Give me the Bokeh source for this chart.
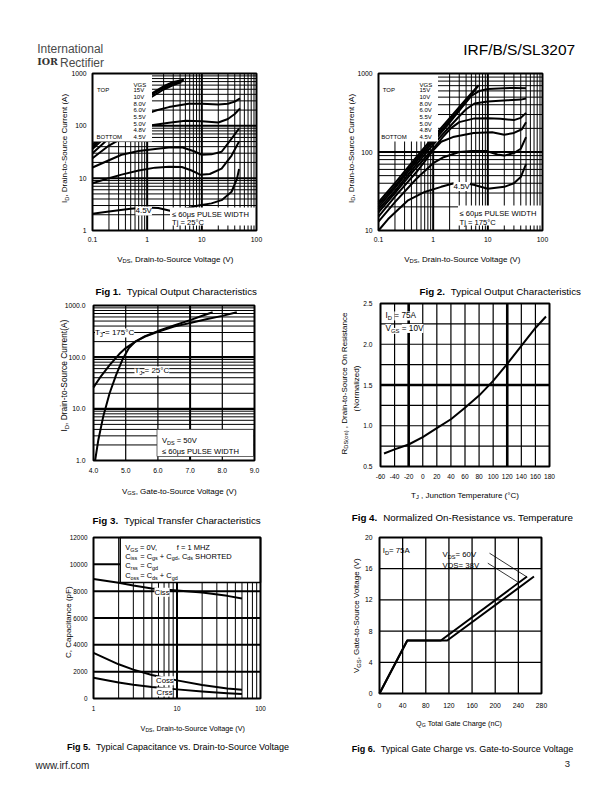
import math
from bokeh.plotting import figure
from bokeh.models import (Range1d, FixedTicker, Label, BoxAnnotation, LinearAxis, LogAxis,
                          LinearScale, LogScale)
from bokeh.embed import file_html
from bokeh.resources import INLINE

FONT = "Liberation Sans"

# ======================= DATA =======================
# Fig 1 - Typical output characteristics, Tj = 25 C  (VDS [V] -> ID [A])
f1_legend = ["15V", "10V", "8.0V", "6.0V", "5.5V", "5.0V", "4.8V", "4.5V"]
f1_vds_15v = [0.1, 0.2, 0.5, 1.0, 2.0, 3.0, 4.7]
f1_id_15v = [44, 86, 200, 370, 570, 690, 760]
f1_vds_10v = [0.1, 0.2, 0.5, 1.0, 2.0, 3.0, 4.5]
f1_id_10v = [40, 79, 185, 345, 535, 645, 720]
f1_vds_8v = [0.1, 0.2, 0.5, 1.0, 2.0, 3.0, 4.2]
f1_id_8v = [36, 71, 168, 315, 495, 600, 680]
f1_vds_6v = [0.1, 0.2, 0.5, 1.0, 1.5, 2.5, 5.7, 10, 20, 30, 40, 50]
f1_id_6v = [30, 58, 125, 172, 198, 228, 265, 264, 256, 265, 290, 335]
f1_vds_5v5 = [0.1, 0.2, 0.5, 1.2, 2.5, 5.0, 10, 20, 30, 40, 50]
f1_id_5v5 = [24, 42, 72, 103, 115, 125, 123, 116, 135, 168, 215]
f1_vds_5v0 = [0.1, 0.2, 0.34, 0.7, 1.4, 2.5, 4.3, 7.0, 10, 15, 23, 35, 48]
f1_id_5v0 = [16, 22, 28, 33, 36, 38.5, 39, 33, 28, 28.5, 32, 57, 89]
f1_vds_4v8 = [0.1, 0.2, 0.34, 0.7, 1.4, 2.5, 4.3, 6.5, 9.5, 14, 23, 35, 48]
f1_id_4v8 = [8, 10, 11.7, 14, 15.9, 16.5, 16.3, 14, 11.6, 12, 15.2, 27, 50]
f1_vds_4v5 = [0.1, 0.2, 0.5, 1.0, 1.6, 3.0, 5.0, 8.7, 15, 23, 35, 44, 48]
f1_id_4v5 = [2.1, 2.3, 2.6, 2.75, 2.7, 2.3, 2.6, 3.0, 3.3, 3.8, 5.5, 9.8, 15]

# Fig 2 - Typical output characteristics, Tj = 175 C
f2_legend = ["15V", "10V", "8.0V", "6.0V", "5.5V", "5.0V", "4.8V", "4.5V"]
f2_vds_15v = [0.1, 0.2, 0.5, 1, 2, 4, 6.8]
f2_id_15v = [23, 40, 87, 155, 270, 470, 710]
f2_vds_10v = [0.1, 0.2, 0.5, 1, 2, 4, 6.6]
f2_id_10v = [21.5, 37, 81, 144, 252, 440, 690]
f2_vds_8v = [0.1, 0.2, 0.5, 1, 2, 3.5, 5, 7, 10, 20, 30, 50]
f2_id_8v = [20, 35, 76, 135, 236, 385, 520, 600, 635, 650, 655, 650]
f2_vds_6v = [0.1, 0.2, 0.5, 1, 2, 3, 4, 5.7, 10, 23, 40, 50]
f2_id_6v = [18.5, 32, 70, 124, 210, 285, 350, 415, 440, 455, 465, 480]
f2_vds_5v5 = [0.1, 0.2, 0.5, 1, 1.5, 2.1, 3, 5.7, 10, 17, 30, 40, 50]
f2_id_5v5 = [17, 30, 64, 110, 155, 200, 240, 268, 270, 265, 255, 272, 315]
f2_vds_5v0 = [0.1, 0.2, 0.5, 1, 1.4, 2.3, 5.5, 12, 20, 30, 42, 50]
f2_id_5v0 = [15, 27, 56, 105, 135, 155, 175, 178, 166, 175, 195, 240]
f2_vds_4v8 = [0.1, 0.2, 0.5, 1, 1.5, 3, 5, 9.4, 15, 20, 30, 40, 50]
f2_id_4v8 = [13, 23, 46, 72, 85, 100, 103, 103, 93, 90, 97, 110, 155]
f2_vds_4v5 = [0.1, 0.15, 0.34, 0.7, 1.4, 2.4, 4, 5.7, 10, 20, 30, 40, 50]
f2_id_4v5 = [10, 14, 24, 31, 36, 40, 40, 38, 34, 36, 40, 48, 70]

# Fig 3 - Typical transfer characteristics (VGS [V] -> ID [A])
f3_vgs_175c = [4.0, 4.2, 4.5, 4.8, 5.0, 5.3, 5.6, 6.0, 6.5, 7.0, 7.5, 8.0, 8.45]
f3_id_175c = [26, 40, 70, 115, 150, 200, 250, 310, 390, 460, 540, 630, 740]
f3_vgs_25c = [4.05, 4.15, 4.3, 4.5, 4.7, 4.9, 5.1, 5.3, 5.6, 6.0, 6.5, 7.0, 7.4, 7.7]
f3_id_25c = [1, 2.5, 7, 20, 45, 90, 150, 200, 255, 320, 410, 520, 640, 740]

# Fig 4 - Normalized on-resistance vs junction temperature
f4_tj = [-55, -40, -20, 0, 20, 40, 60, 80, 100, 120, 140, 160, 175]
f4_rds = [0.66, 0.71, 0.77, 0.86, 0.97, 1.08, 1.22, 1.37, 1.55, 1.76, 1.98, 2.2, 2.34]

# Fig 5 - Capacitance vs VDS (pF)
f5_vds = [1, 2, 3, 5, 10, 20, 40, 60]
f5_ciss = [8900, 8620, 8420, 8200, 8050, 7900, 7650, 7450]
f5_coss = [3400, 2550, 2150, 1750, 1350, 1000, 750, 650]
f5_crss = [1550, 1200, 1020, 850, 680, 530, 400, 330]

# Fig 6 - Gate charge (QG [nC] -> VGS [V])
f6_qg_38v = [0, 48, 106, 255]
f6_vgs_38v = [0, 6.8, 6.8, 15.0]
f6_qg_60v = [0, 48, 117, 267]
f6_vgs_60v = [0, 6.8, 6.8, 15.0]

# tick values / labels
dec_01_100 = [0.1, 1, 10, 100]
dec_01_100_lab = ["0.1", "1", "10", "100"]
minor_01_100 = [0.2, 0.3, 0.4, 0.5, 0.6, 0.7, 0.8, 0.9, 2, 3, 4, 5, 6, 7, 8, 9,
                20, 30, 40, 50, 60, 70, 80, 90]
dec_1_1000 = [1, 10, 100, 1000]
minor_1_1000 = [2, 3, 4, 5, 6, 7, 8, 9, 20, 30, 40, 50, 60, 70, 80, 90,
                200, 300, 400, 500, 600, 700, 800, 900]
f2_yt = [10, 100, 1000]
f2_ymin = [20, 30, 40, 50, 60, 70, 80, 90, 200, 300, 400, 500, 600, 700, 800, 900]
f3_xt = [4, 5, 6, 7, 8, 9]
f3_xt_lab = ["4.0", "5.0", "6.0", "7.0", "8.0", "9.0"]
f3_yt_lab = ["1.0", "10.0", "100.0", "1000.0"]
f4_xt = list(range(-60, 181, 20))
f4_yt = [0.5, 1.0, 1.5, 2.0, 2.5]
f4_ymin = [0.75, 1.25, 1.75, 2.25]
f5_xt = [1, 10, 100]
f5_xmin = [2, 3, 4, 5, 6, 7, 8, 9, 20, 30, 40, 50, 60, 70, 80, 90]
f5_yt = list(range(0, 12001, 2000))
f6_xt = list(range(0, 281, 40))
f6_yt = list(range(0, 21, 4))

# ======================= PAGE CANVAS =======================
W, H = 610, 790
p = figure(width=W, height=H, x_range=Range1d(0, W), y_range=Range1d(H, 0),
           output_backend="svg", toolbar_location=None, title=None,
           x_axis_location=None, y_axis_location=None,
           min_border=0, min_border_left=0, min_border_right=0,
           min_border_top=0, min_border_bottom=0)
p.outline_line_color = None
p.background_fill_color = "white"
p.border_fill_color = "white"
p.xgrid.visible = False
p.ygrid.visible = False
EXR, EYR, EXS, EYS = {}, {}, {}, {}

# ======================= HELPERS =======================
CW = {' ': 278, '!': 278, '(': 333, ')': 333, ',': 278, '-': 333, '.': 278, '/': 278,
      ':': 278, '=': 584, '+': 584, '\u00b0': 400, '\u03bc': 576, '\u2264': 549}
for _c in "0123456789":
    CW[_c] = 556
CW.update(dict(A=667, B=667, C=722, D=722, E=667, F=611, G=778, H=722, I=278, J=500, K=667,
               L=556, M=833, N=722, O=778, P=667, Q=778, R=722, S=667, T=611, U=722, V=667,
               W=944, X=667, Y=667, Z=611))
CW.update(dict(a=556, b=556, c=500, d=556, e=556, f=278, g=556, h=556, i=222, j=222, k=500,
               l=222, m=833, n=556, o=556, p=556, q=556, r=333, s=500, t=278, u=556, v=500,
               w=722, x=500, y=500, z=500))


def tw(s, size, bold=False):
    w = sum(CW.get(c, 556) for c in s) * size / 1000.0
    return w * (1.06 if bold else 1.0)


def parse(s):
    parts, buf, i = [], "", 0
    while i < len(s):
        if s.startswith("_{", i):
            if buf:
                parts.append((buf, "n"))
                buf = ""
            j = s.index("}", i)
            parts.append((s[i + 2:j], "s"))
            i = j + 1
        else:
            buf += s[i]
            i += 1
    if buf:
        parts.append((buf, "n"))
    return parts


def rich(px, py, parts, size, align="left", angle=0.0, color="black", bg=None, font=FONT):
    """Text (with subscripts) placed in page coordinates: px = start, py = vertical centre."""
    if isinstance(parts, str):
        parts = parse(parts)
    sub = 0.72
    ws = [tw(t, size * sub if k == "s" else size, k == "b") for t, k in parts]
    total = sum(ws)
    adv = {"left": 0.0, "center": -total / 2, "right": -total}[align]
    for (t, k), w in zip(parts, ws):
        s = size * sub if k == "s" else size
        lead = len(t) - len(t.lstrip(" "))
        a = adv + tw(" " * lead, s)
        txt = t.strip(" ")
        drop = 0.3 * size if k == "s" else 0.0
        base = 0.36 * size + drop
        if angle:
            x, y = px + base, py - a
        else:
            x, y = px + a, py + base
        if txt:
            lab = Label(x=x, y=y, text=txt, text_font=font, text_font_size=f"{s:.2f}px",
                        text_font_style="bold" if k == "b" else "normal", text_color=color,
                        text_align="left", text_baseline="alphabetic", angle=angle)
            if bg:
                lab.background_fill_color = bg
            p.add_layout(lab)
        adv += w


def box(px0, py0, px1, py1, fill="white", line=None, lw=1.0):
    p.add_layout(BoxAnnotation(left=px0, right=px1, top=py0, bottom=py1,
                               fill_color=fill if fill else "white",
                               fill_alpha=1.0 if fill else 0.0,
                               line_color=line if line else "black",
                               line_alpha=1.0 if line else 0.0, line_width=lw))


class Chart:
    def __init__(self, name, frame, xr, yr, xlog, ylog):
        self.frame, self.xr, self.yr, self.xlog, self.ylog = frame, xr, yr, xlog, ylog
        self.xn, self.yn = name + "x", name + "y"
        L, R, T, B = frame

        def tr(v, lg):
            return math.log10(v) if lg else v

        def inv(v, lg):
            return 10 ** v if lg else v
        tx0, tx1 = tr(xr[0], xlog), tr(xr[1], xlog)
        ty0, ty1 = tr(yr[0], ylog), tr(yr[1], ylog)
        fx = lambda px: inv(tx0 + (px - L) / (R - L) * (tx1 - tx0), xlog)
        fy = lambda py: inv(ty0 + (B - py) / (B - T) * (ty1 - ty0), ylog)
        EXR[self.xn] = Range1d(fx(0), fx(W))
        EYR[self.yn] = Range1d(fy(H), fy(0))
        EXS[self.xn] = LogScale() if xlog else LinearScale()
        EYS[self.yn] = LogScale() if ylog else LinearScale()

    def kw(self):
        return dict(x_range_name=self.xn, y_range_name=self.yn)

    def curve(self, xs, ys, w=2.0):
        p.line(xs, ys, line_color="black", line_width=w, line_join="round", **self.kw())

    def vgrid(self, vals, w):
        vals = [v for v in vals if self.xr[0] < v < self.xr[1]]
        n = len(vals)
        p.segment(x0=vals, x1=vals, y0=[self.yr[0]] * n, y1=[self.yr[1]] * n,
                  line_color="black", line_width=w, **self.kw())

    def hgrid(self, vals, w):
        vals = [v for v in vals if self.yr[0] < v < self.yr[1]]
        n = len(vals)
        p.segment(x0=[self.xr[0]] * n, x1=[self.xr[1]] * n, y0=vals, y1=vals,
                  line_color="black", line_width=w, **self.kw())

    def axes(self, xt, xl, yt, yl, size, xstand, ystand):
        XA = LogAxis if self.xlog else LinearAxis
        YA = LogAxis if self.ylog else LinearAxis
        xa = XA(ticker=FixedTicker(ticks=xt), fixed_location=self.yr[0], bounds=self.xr,
                major_label_overrides={float(v): s for v, s in zip(xt, xl)}, **self.kw())
        ya = YA(ticker=FixedTicker(ticks=yt), fixed_location=self.xr[0], bounds=self.yr,
                major_label_overrides={float(v): s for v, s in zip(yt, yl)}, **self.kw())
        for ax, st in ((xa, xstand), (ya, ystand)):
            ax.axis_line_color = None
            ax.major_tick_line_color = None
            ax.minor_tick_line_color = None
            ax.major_tick_out = 0
            ax.major_tick_in = 0
            ax.minor_tick_out = 0
            ax.minor_tick_in = 0
            ax.major_label_text_font = FONT
            ax.major_label_text_font_size = f"{size}px"
            ax.major_label_text_color = "black"
            ax.major_label_standoff = int(round(st))
        p.add_layout(xa, "below")
        p.add_layout(ya, "left")

    def outline(self):
        L, R, T, B = self.frame
        box(L, T, R, B, fill=None, line="black", lw=2)


# ======================= FIG 1 =======================
c1 = Chart("f1", (92, 256, 73, 230), (0.1, 100), (1, 1000), True, True)
c1.vgrid(minor_01_100, 1)
c1.vgrid(dec_01_100, 2)
c1.hgrid(minor_1_1000, 1)
c1.hgrid(dec_1_1000, 2)
for xs, ys in [(f1_vds_15v, f1_id_15v), (f1_vds_10v, f1_id_10v), (f1_vds_8v, f1_id_8v),
               (f1_vds_6v, f1_id_6v), (f1_vds_5v5, f1_id_5v5), (f1_vds_5v0, f1_id_5v0),
               (f1_vds_4v8, f1_id_4v8), (f1_vds_4v5, f1_id_4v5)]:
    c1.curve(xs, ys)
c1.axes(dec_01_100, dec_01_100_lab, dec_1_1000, [str(v) for v in dec_1_1000], 6.8, 6, 6)
box(92, 73, 151.5, 141)
box(169.5, 207, 256, 225)
rich(133, 82, "VGS", 6)
rich(96.5, 87.5, "TOP", 6)
rich(96, 134.5, "BOTTOM", 6)
for k, lab in enumerate(f1_legend):
    rich(133, 87.5 + k * 6.72, lab, 6)
rich(135, 207.5, "4.5V", 8, bg="white")
rich(171.5, 211, "\u2264 60\u03bcs PULSE WIDTH", 7.6)
rich(171.5, 219, "Tj = 25\u00b0C", 7.6)
rich(61, 148, "I_{D}, Drain-to-Source Current (A)", 8, align="center", angle=math.pi / 2)
rich(175, 255.7, "V_{DS}, Drain-to-Source Voltage (V)", 8, align="center")
rich(176, 287, [("Fig 1.", "b"), ("  Typical Output Characteristics", "n")], 9.8, align="center")
c1.outline()

# ======================= FIG 2 =======================
c2 = Chart("f2", (378, 542, 73, 230), (0.1, 100), (10, 1000), True, True)
c2.vgrid(minor_01_100, 1)
c2.vgrid(dec_01_100, 2)
c2.hgrid(f2_ymin, 1)
c2.hgrid(f2_yt, 2.2)
for xs, ys in [(f2_vds_15v, f2_id_15v), (f2_vds_10v, f2_id_10v), (f2_vds_8v, f2_id_8v),
               (f2_vds_6v, f2_id_6v), (f2_vds_5v5, f2_id_5v5), (f2_vds_5v0, f2_id_5v0),
               (f2_vds_4v8, f2_id_4v8), (f2_vds_4v5, f2_id_4v5)]:
    c2.curve(xs, ys)
c2.axes(dec_01_100, dec_01_100_lab, f2_yt, [str(v) for v in f2_yt], 6.8, 6, 6)
box(378, 73, 437.5, 141)
box(457.5, 205, 542, 225)
rich(419, 82, "VGS", 6)
rich(382.3, 87.5, "TOP", 6)
rich(380.7, 134.5, "BOTTOM", 6)
for k, lab in enumerate(f2_legend):
    rich(419, 87.5 + k * 6.72, lab, 6)
rich(453, 183, "4.5V", 8, bg="white")
rich(459, 210.7, "\u2264 60\u03bcs PULSE WIDTH", 7.6)
rich(459, 219.5, "Tj = 175\u00b0C", 7.6)
rich(347.7, 148, "I_{D}, Drain-to-Source Current (A)", 8, align="center", angle=math.pi / 2)
rich(462, 255.7, "V_{DS}, Drain-to-Source Voltage (V)", 8, align="center")
rich(500, 287, [("Fig 2.", "b"), ("  Typical Output Characteristics", "n")], 9.8, align="center")
c2.outline()

# ======================= FIG 3 =======================
c3 = Chart("f3", (93, 254, 305, 460), (4, 9), (1, 1000), False, True)
c3.vgrid([5, 6, 8], 1.2)
c3.vgrid([7], 2)
c3.hgrid(minor_1_1000, 1)
c3.hgrid(dec_1_1000, 2.2)
c3.curve(f3_vgs_175c, f3_id_175c)
c3.curve(f3_vgs_25c, f3_id_25c)
c3.axes(f3_xt, f3_xt_lab, dec_1_1000, f3_yt_lab, 6.8, 7, 8)
rich(94.5, 329.5, "T_{J} = 175\u00b0C", 8, bg="white")
rich(134, 367.5, "T_{J} = 25\u00b0C", 8, bg="white")
box(156.5, 429, 253, 456, line="#444444", lw=0.8)
rich(161.5, 437.5, "V_{DS} = 50V", 7.6)
rich(161.5, 448, "\u2264 60\u03bcs PULSE WIDTH", 7.6)
rich(60.7, 375, "I_{D}, Drain-to-Source Current(A)", 8.4, align="center", angle=math.pi / 2)
rich(179, 487.7, "V_{GS}, Gate-to-Source Voltage (V)", 8, align="center")
rich(176.7, 516, [("Fig 3.", "b"), ("  Typical Transfer Characteristics", "n")], 9.8, align="center")
c3.outline()

# ======================= FIG 4 =======================
c4 = Chart("f4", (380, 549, 303, 466), (-60, 180), (0.5, 2.5), False, False)
c4.vgrid(f4_xt, 1.2)
c4.hgrid(f4_yt + f4_ymin, 1.2)
c4.vgrid([-20, 120], 2.6)
c4.hgrid([1.5], 2.6)
c4.curve(f4_tj, f4_rds)
c4.axes(f4_xt, [str(v) for v in f4_xt], f4_yt, ["%.1f" % v for v in f4_yt], 6.6, 7, 8)
rich(385, 312.5, "I_{D} = 75A", 8.2, bg="white")
rich(385, 325, "V_{GS} = 10V", 8.2, bg="white")
rich(340.7, 383, "R_{DS(on)} , Drain-to-Source On Resistance", 8, align="center", angle=math.pi / 2)
rich(353.3, 388, "(Normalized)", 8, align="center", angle=math.pi / 2)
rich(465, 491.7, "T_{J} , Junction Temperature (\u00b0C)", 8, align="center")
rich(462.5, 513, [("Fig 4.", "b"), ("  Normalized On-Resistance vs. Temperature", "n")], 9.8, align="center")
c4.outline()

# ======================= FIG 5 =======================
c5 = Chart("f5", (93, 260, 537, 698), (1, 100), (0, 12000), True, False)
c5.vgrid(f5_xmin, 1)
c5.vgrid(f5_xt, 2)
c5.hgrid(f5_yt, 2)
c5.curve(f5_vds, f5_ciss)
c5.curve(f5_vds, f5_coss)
c5.curve(f5_vds, f5_crss)
c5.axes(f5_xt, [str(v) for v in f5_xt], f5_yt, [str(v) for v in f5_yt], 6.4, 7, 6)
box(119.7, 537, 260, 582, line="black", lw=1.5)
rich(124.7, 544.5, "V_{GS} = 0V,", 7.5)
rich(176.3, 544.5, "f = 1 MHZ", 7.5)
rich(124.7, 553, "C_{iss}", 7.5)
rich(139.7, 553, "= C_{gs} + C_{gd}, C_{ds} SHORTED", 7.5)
rich(124.7, 562.7, "C_{rss}", 7.5)
rich(139.7, 562.7, "= C_{gd}", 7.5)
rich(124.7, 572.3, "C_{oss}", 7.5)
rich(139.7, 572.3, "= C_{ds} + C_{gd}", 7.5)
rich(154, 589, "Ciss", 7.8, bg="white")
rich(155.5, 677.5, "Coss", 7.8, bg="white")
rich(156, 688.8, "Crss", 7.8, bg="white")
rich(65, 621.7, "C, Capacitance (pF)", 8, align="center", angle=math.pi / 2)
rich(192.5, 725, "V_{DS}, Drain-to-Source Voltage (V)", 7.2, align="center")
rich(178, 743, [("Fig 5.", "b"), ("  Typical Capacitance vs. Drain-to-Source Voltage", "n")], 9, align="center")
c5.outline()

# ======================= FIG 6 =======================
c6 = Chart("f6", (379, 541, 537, 693), (0, 280), (0, 20), False, False)
c6.vgrid(f6_xt, 1.3)
c6.hgrid(f6_yt, 1.3)
c6.curve(f6_qg_38v, f6_vgs_38v)
c6.curve(f6_qg_60v, f6_vgs_60v)
c6.axes(f6_xt, [str(v) for v in f6_xt], f6_yt, [str(v) for v in f6_yt], 6.8, 9, 7)
p.segment(x0=[489, 487.3], y0=[552.7, 562.7], x1=[525.7, 518], y1=[576, 582],
          line_color="black", line_width=0.8)
rich(382.3, 547, "I_{D}= 75A", 7.8)
rich(442, 551.5, "V_{DS}= 60V", 7.8)
rich(442, 562, "VDS= 38V", 7.8)
rich(353.3, 615, "V_{GS}, Gate-to-Source Voltage (V)", 8, align="center", angle=math.pi / 2)
rich(459, 720, "Q_{G} Total Gate Charge (nC)", 7.2, align="center")
rich(462.5, 745, [("Fig 6.", "b"), ("  Typical Gate Charge vs. Gate-to-Source Voltage", "n")], 9, align="center")
c6.outline()

# ======================= PAGE TEXT =======================
rich(36.7, 43.8, "International", 12, color="#4a4a4a")
rich(36.7, 57.7, [("IOR", "b")], 9.5, font="DejaVu Serif", color="#333333")
rich(59.5, 57.7, "Rectifier", 12, color="#4a4a4a")
rich(574.7, 43, "IRF/B/S/SL3207", 15.5, align="right")
rich(35, 761, "www.irf.com", 10, color="#222222")
rich(564.3, 760, "3", 9.5, color="#222222")

p.extra_x_ranges = EXR
p.extra_y_ranges = EYR
p.extra_x_scales = EXS
p.extra_y_scales = EYS

open("out.html", "w").write(file_html(p, INLINE))
